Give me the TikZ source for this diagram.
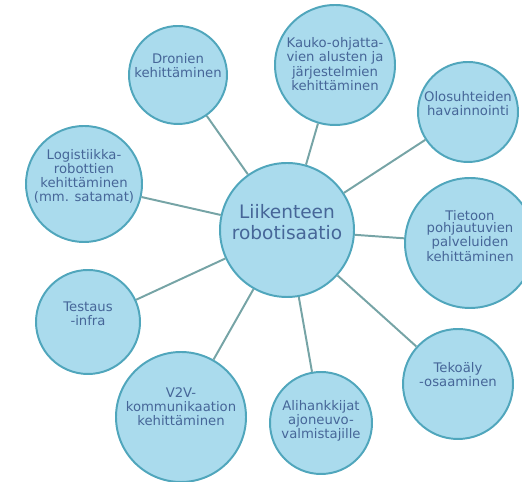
\documentclass[tikz,border=0pt]{standalone}
\usepackage{fontspec}
\setmainfont{DejaVu Sans}
\usepackage{tikz}
\definecolor{bubfill}{RGB}{170,219,237}
\definecolor{bubedge}{RGB}{80,166,188}
\definecolor{linkgray}{RGB}{118,164,166}
\definecolor{inkblue}{RGB}{70,102,152}
\tikzset{
  bub/.style={circle, draw=bubedge, fill=bubfill, line width=1.4pt, inner sep=0pt},
  txt/.style={align=center, text=inkblue, inner sep=0pt,
              font=\fontsize{9.4}{10}\selectfont},
  tight/.style={txt, font=\fontsize{9.4}{8.6}\selectfont},
  big/.style={txt, font=\fontsize{13.2}{15.4}\selectfont},
  lnk/.style={draw=linkgray, line width=1.4pt},
}

\begin{document}
\begin{tikzpicture}[x=1cm, y=1cm]
  \useasboundingbox (0,0) rectangle (13.05,12.05);
  % bubbles
  \node[bub, minimum size=3.35cm] (robo) at (7.175,6.3) {};
  \node[bub, minimum size=2.45cm] (dron) at (4.45,10.175) {};
  \node[bub, minimum size=3.0cm] (kauko) at (8.375,10.425) {};
  \node[bub, minimum size=2.5cm] (olo) at (11.7,9.25) {};
  \node[bub, minimum size=2.9cm] (logi) at (2.1,7.45) {};
  \node[bub, minimum size=3.25cm] (tieto) at (11.75,5.975) {};
  \node[bub, minimum size=2.6cm] (testi) at (2.2,4.0) {};
  \node[bub, minimum size=3.25cm] (vtov) at (4.525,1.625) {};
  \node[bub, minimum size=2.55cm] (ali) at (8.025,1.475) {};
  \node[bub, minimum size=2.75cm] (teko) at (11.45,2.45) {};
  % spokes
  \foreach \b in {dron,kauko,olo,logi,tieto,testi,vtov,ali,teko}
    \draw[lnk] (robo) -- (\b);
  % labels
  \node[big] (robo-t) at (7.175,6.5) {Liikenteen\\robotisaatio};
  \node[txt] (dron-t) at (4.45,10.4) {Dronien\\kehittäminen};
  \node[tight] (kauko-t) at (8.375,10.45) {Kauko-ohjatta-\\vien alusten ja\\järjestelmien\\kehittäminen};
  \node[txt] (olo-t) at (11.7,9.45) {Olosuhteiden\\havainnointi};
  \node[txt] (logi-t) at (2.1,7.65) {Logistiikka-\\robottien\\kehittäminen\\(mm. satamat)};
  \node[tight] (tieto-t) at (11.75,6.15) {Tietoon\\pohjautuvien\\palveluiden\\kehittäminen};
  \node[txt] (testi-t) at (2.2,4.2) {Testaus\\-infra};
  \node[txt] (vtov-t) at (4.525,1.875) {V2V-\\kommunikaation\\kehittäminen};
  \node[txt] (ali-t) at (8.025,1.53) {Alihankkijat\\ajoneuvo-\\valmistajille};
  \node[txt] (teko-t) at (11.45,2.675) {Tekoäly\\-osaaminen};
\end{tikzpicture}
\end{document}
